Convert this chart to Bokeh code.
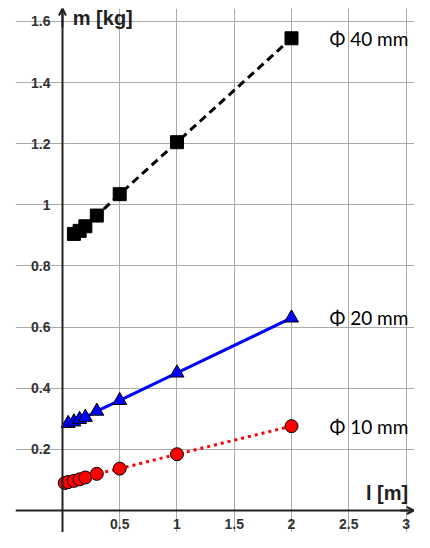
from bokeh.plotting import figure
from bokeh.models import Range1d, FixedTicker, Arrow, OpenHead, Label, ColumnDataSource
from bokeh.core.properties import value
from bokeh.embed import file_html
from bokeh.resources import INLINE

# ---- data ----
l40 = [0.1, 0.15, 0.2, 0.3, 0.5, 1, 2]
m40 = [0.905, 0.915, 0.93, 0.965, 1.035, 1.205, 1.545]
l20 = [0.05, 0.1, 0.15, 0.2, 0.3, 0.5, 1, 2]
m20 = [0.285, 0.29, 0.298, 0.305, 0.325, 0.36, 0.45, 0.63]
l10 = [0.02, 0.05, 0.1, 0.15, 0.2, 0.3, 0.5, 1, 2]
m10 = [0.09, 0.093, 0.097, 0.102, 0.108, 0.12, 0.137, 0.184, 0.276]
series_labels = ["\u03a6 40 mm", "\u03a6 20 mm", "\u03a6 10 mm"]
x_ticks = [0.5, 1, 1.5, 2, 2.5, 3]
x_tick_labels = ["0.5", "1", "1.5", "2", "2.5", "3"]
y_ticks = [0.2, 0.4, 0.6, 0.8, 1.0, 1.2, 1.4, 1.6]
y_tick_labels = ["0.2", "0.4", "0.6", "0.8", "1", "1.2", "1.4", "1.6"]
x_title = "l [m]"
y_title = "m [kg]"

X0, X1 = -0.41, 3.074
Y0, Y1 = -0.072, 1.6425

p = figure(width=414, height=532,
           x_range=Range1d(X0, X1), y_range=Range1d(Y0, Y1),
           output_backend="svg", toolbar_location=None,
           min_border_left=15, min_border_top=8, min_border_right=0, min_border_bottom=0)
p.outline_line_color = None
p.background_fill_color = "white"
p.border_fill_color = "white"

for ax, ticks, labs in ((p.xaxis[0], x_ticks, x_tick_labels), (p.yaxis[0], y_ticks, y_tick_labels)):
    ax.ticker = FixedTicker(ticks=ticks)
    ax.major_label_overrides = {t: s for t, s in zip(ticks, labs)}
    ax.fixed_location = 0
    ax.axis_line_width = 2
    ax.axis_line_color = "#222222"
    ax.major_tick_line_color = None
    ax.minor_tick_line_color = None
    ax.major_label_text_font = "Liberation Sans"
    ax.major_label_text_font_style = "bold"
    ax.major_label_text_font_size = "14px"
    ax.major_label_text_color = "#333333"
p.xaxis.major_label_standoff = 3
p.yaxis.major_label_standoff = 6

p.grid.grid_line_color = "#aaaaaa"
p.grid.grid_line_width = 1

# series
p.line(l40, m40, line_color="black", line_width=3, line_dash="8 5")
p.scatter(l40, m40, marker="square", size=13, fill_color="black", line_color="black")

p.line(l20, m20, line_color="#0000ff", line_width=3)
p.scatter(l20, m20, marker="triangle", size=14, fill_color="#0000ff", line_color="#000000", line_width=1)

p.line(l10, m10, line_color="#ff0000", line_width=3, line_dash="3 4")
p.scatter(l10, m10, marker="circle", size=13, fill_color="#ff0000", line_color="#000000", line_width=1)

src = ColumnDataSource(dict(x=[l40[-1], l20[-1], l10[-1]],
                            y=[m40[-1], m20[-1], m10[-1]],
                            t=series_labels))
p.text(x="x", y="y", text="t", source=src, x_offset=38,
       text_font=value("Lato"), text_font_size="19px", text_baseline="middle",
       text_align="left", text_color="black")

# axis arrows
p.add_layout(Arrow(end=OpenHead(size=7, line_width=2, line_color="#222222"),
                   x_start=0, y_start=1.58, x_end=0, y_end=Y1,
                   line_width=2, line_color="#222222"))
p.add_layout(Arrow(end=OpenHead(size=7, line_width=2, line_color="#222222"),
                   x_start=2.95, y_start=0, x_end=X1 - 0.005, y_end=0,
                   line_width=2, line_color="#222222"))

p.add_layout(Label(x=0.09, y=1.61, text=y_title, text_font="Liberation Sans",
                   text_font_style="bold", text_font_size="20px", text_color="#222222",
                   text_baseline="middle"))
p.add_layout(Label(x=2.65, y=0.056, text=x_title, text_font="Liberation Sans",
                   text_font_style="bold", text_font_size="20px", text_color="#222222",
                   text_baseline="middle"))

open("out.html", "w").write(file_html(p, INLINE))
